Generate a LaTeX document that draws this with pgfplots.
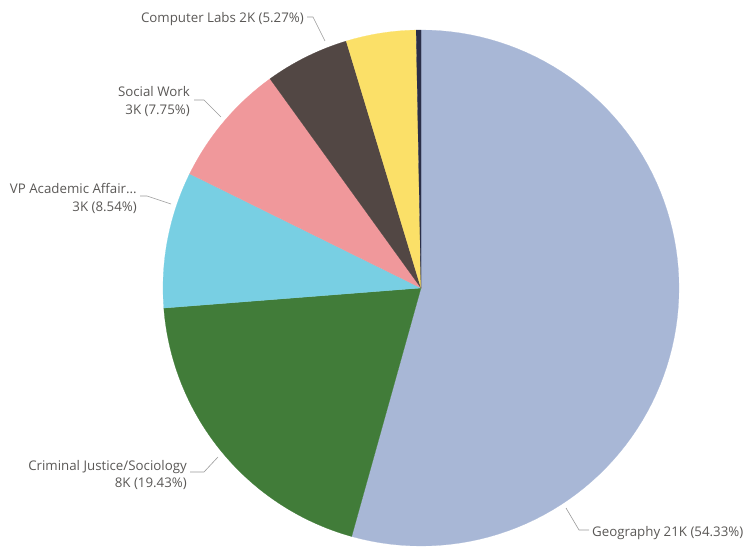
\documentclass[border=0pt]{standalone}
\usepackage{pgfplots}
\pgfplotsset{compat=1.18}
\usepackage{fontspec}
\setmainfont{Open Sans}
\definecolor{cGeo}{HTML}{A8B7D6}
\definecolor{cCJ}{HTML}{417C39}
\definecolor{cVP}{HTML}{78CFE3}
\definecolor{cSW}{HTML}{F0989B}
\definecolor{cCL}{HTML}{524744}
\definecolor{cYe}{HTML}{FBE068}
\definecolor{cNa}{HTML}{2A2E48}
\definecolor{txt}{HTML}{5A5856}
\definecolor{lead}{HTML}{9A9A9A}
% shares in percent, clockwise from 12 o'clock
\def\pGeo{54.33}
\def\pCJ{19.43}
\def\pVP{8.54}
\def\pSW{7.75}
\def\pCL{5.27}
\def\pYe{4.38}
\def\pNa{0.30}
\def\cx{421}
\def\cy{258}
\def\rr{258}
\begin{document}
\begin{tikzpicture}
\pgfmathsetmacro{\aA}{90}
\pgfmathsetmacro{\aB}{\aA-3.6*\pGeo}
\pgfmathsetmacro{\aC}{\aB-3.6*\pCJ}
\pgfmathsetmacro{\aD}{\aC-3.6*\pVP}
\pgfmathsetmacro{\aE}{\aD-3.6*\pSW}
\pgfmathsetmacro{\aF}{\aE-3.6*\pCL}
\pgfmathsetmacro{\aG}{\aF-3.6*\pYe}
\pgfmathsetmacro{\aH}{\aG-3.6*\pNa}
\begin{axis}[
  width=745pt, height=546pt, scale only axis,
  xmin=0, xmax=745, ymin=0, ymax=546,
  hide axis, clip=false,
  every axis plot/.append style={samples=90, variable=\t, line width=0.2pt},
]
\path (axis cs:0,0) rectangle (axis cs:745,546);
\addplot[fill=cGeo, draw=cGeo, domain=\aB:\aA] ({\cx+\rr*cos(t)},{\cy+\rr*sin(t)}) -- (axis cs:\cx,\cy) -- cycle;
\addplot[fill=cCJ, draw=cCJ, domain=\aC:\aB] ({\cx+\rr*cos(t)},{\cy+\rr*sin(t)}) -- (axis cs:\cx,\cy) -- cycle;
\addplot[fill=cVP, draw=cVP, domain=\aD:\aC] ({\cx+\rr*cos(t)},{\cy+\rr*sin(t)}) -- (axis cs:\cx,\cy) -- cycle;
\addplot[fill=cSW, draw=cSW, domain=\aE:\aD] ({\cx+\rr*cos(t)},{\cy+\rr*sin(t)}) -- (axis cs:\cx,\cy) -- cycle;
\addplot[fill=cCL, draw=cCL, domain=\aF:\aE] ({\cx+\rr*cos(t)},{\cy+\rr*sin(t)}) -- (axis cs:\cx,\cy) -- cycle;
\addplot[fill=cYe, draw=cYe, domain=\aG:\aF] ({\cx+\rr*cos(t)},{\cy+\rr*sin(t)}) -- (axis cs:\cx,\cy) -- cycle;
\addplot[fill=cNa, draw=cNa, domain=\aH:\aG, samples=5] ({\cx+\rr*cos(t)},{\cy+\rr*sin(t)}) -- (axis cs:\cx,\cy) -- cycle;
% leader lines
\draw[lead, line width=0.6pt] (axis cs:307,529) -- (axis cs:313,529) -- (axis cs:325,505);
\draw[lead, line width=0.6pt] (axis cs:194,446) -- (axis cs:204,446) -- (axis cs:221,429);
\draw[lead, line width=0.6pt] (axis cs:140,350) -- (axis cs:147,350) -- (axis cs:171,342);
\draw[lead, line width=0.6pt] (axis cs:190,74) -- (axis cs:204,74) -- (axis cs:218,89);
\draw[lead, line width=0.6pt] (axis cs:566,38) -- (axis cs:579,16) -- (axis cs:589,16);
% labels
\begin{scope}[every node/.style={text=txt, font=\fontsize{13.3}{16}\selectfont, inner sep=0pt}]
\node[anchor=east] at (axis cs:304,527) {Computer Labs 2K (5.27\%)};
\node[anchor=east, align=right] at (axis cs:190,444) {Social Work\\[2pt]3K (7.75\%)};
\node[anchor=east, align=right] at (axis cs:137,348) {VP Academic Affair...\\[2pt]3K (8.54\%)};
\node[anchor=east, align=right] at (axis cs:187,71) {Criminal Justice/Sociology\\[2pt]8K (19.43\%)};
\node[anchor=west] at (axis cs:592,13) {Geography 21K (54.33\%)};
\end{scope}
\end{axis}
\end{tikzpicture}
\end{document}
